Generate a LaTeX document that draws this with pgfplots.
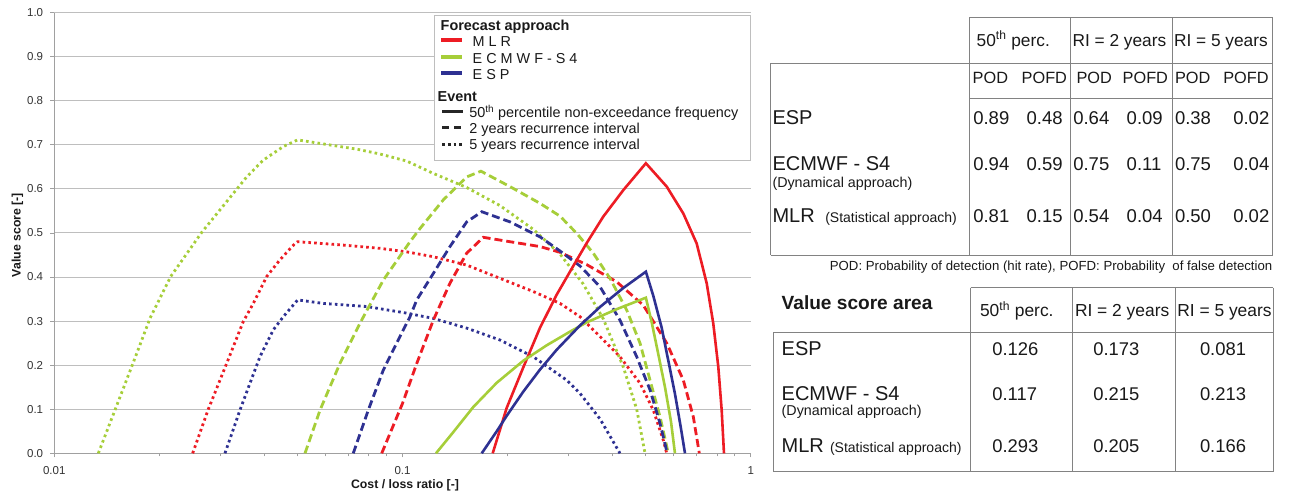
\documentclass[border=0pt]{standalone}
\usepackage{pgfplots}
\pgfplotsset{compat=1.18}
\usepackage{fontspec}
\setmainfont{Liberation Sans}

\definecolor{mlr}{RGB}{237,28,36}
\definecolor{ecm}{RGB}{166,206,57}
\definecolor{esp}{RGB}{46,49,146}
\definecolor{gridgray}{RGB}{190,190,190}
\definecolor{axgray}{RGB}{160,160,160}
\definecolor{tabgray}{RGB}{130,130,130}
\newcommand{\fs}[1]{\fontsize{#1}{#1}\selectfont}

\tikzset{
  solidline/.style={line width=2.6pt},
  dashline/.style={line width=2.8pt, dash pattern=on 8pt off 4pt},
  dotline/.style={line width=2.8pt, line cap=butt, dash pattern=on 2.6pt off 3.2pt},
}

\begin{document}
\begin{tikzpicture}
\begin{axis}[
  at={(54.3pt,-453.3pt)}, anchor=south west,
  scale only axis, width=696.4pt, height=440.8pt,
  xmode=log, xmin=0.01, xmax=1, ymin=0, ymax=1,
  axis lines*=left,
  axis line style={axgray, line width=0.8pt},
  ymajorgrids, grid style={gridgray, line width=0.9pt},
  xtick={0.01,0.1,1}, xticklabels={0.01,0.1,1},
  minor xtick={0.02,0.03,0.04,0.05,0.06,0.07,0.08,0.09,0.2,0.3,0.4,0.5,0.6,0.7,0.8,0.9},
  ytick={0,0.1,0.2,0.3,0.4,0.5,0.6,0.7,0.8,0.9,1},
  yticklabel style={/pgf/number format/fixed, /pgf/number format/fixed zerofill,
                    /pgf/number format/precision=1, xshift=-7pt},
  /pgf/number format/assume math mode=true,
  tick style={axgray, line width=0.8pt},
  tick align=outside, major tick length=4pt, minor tick length=3pt,
  ticklabel style={font=\fs{11.5}, text=black!80, inner sep=0pt},
  xticklabel style={yshift=-9pt},
  clip=false,
]
% MLR, 5 years RI
\addplot[mlr, dotline] coordinates {
(0.02497,0) (0.02769,0.1) (0.03127,0.204) (0.0349,0.299) (0.03729,0.340)
(0.04074,0.401) (0.04448,0.439) (0.0491,0.476) (0.05,0.480) (0.06614,0.473)
(0.08617,0.465) (0.1028,0.457) (0.1226,0.446) (0.1529,0.427) (0.1905,0.397)
(0.2375,0.367) (0.2834,0.340) (0.3234,0.310) (0.3692,0.265) (0.4213,0.219)
(0.481,0.159) (0.5253,0.098) (0.561,0.030) (0.574,0)
};
% ECMWF-S4, 5 years RI
\addplot[ecm, dotline] coordinates {
(0.01338,0) (0.01487,0.094) (0.01686,0.206) (0.01883,0.306) (0.02159,0.401)
(0.0265,0.501) (0.03569,0.627) (0.03982,0.665) (0.04548,0.696) (0.05,0.711)
(0.058,0.703) (0.0739,0.690) (0.0862,0.679) (0.1028,0.663) (0.1226,0.635)
(0.1529,0.603) (0.1905,0.562) (0.2375,0.508) (0.2834,0.452) (0.3305,0.384)
(0.3773,0.305) (0.4306,0.196) (0.4706,0.100) (0.4972,0)
};
% ESP, 5 years RI
\addplot[esp, dotline] coordinates {
(0.03092,0) (0.03414,0.098) (0.03648,0.159) (0.03896,0.219) (0.04256,0.280)
(0.04548,0.310) (0.05,0.348) (0.05924,0.340) (0.07893,0.333) (0.1028,0.318)
(0.1226,0.306) (0.1529,0.284) (0.1905,0.257) (0.2375,0.219) (0.2962,0.166)
(0.3234,0.136) (0.3692,0.078) (0.4213,0)
};
% MLR, 2 years RI
\addplot[mlr, dashline] coordinates {
(0.08717,0) (0.1,0.113) (0.1099,0.204) (0.1226,0.302) (0.1369,0.386)
(0.1529,0.454) (0.1707,0.490) (0.2036,0.480) (0.2483,0.469) (0.2834,0.456)
(0.3381,0.428) (0.4123,0.389) (0.4916,0.336) (0.574,0.250) (0.6405,0.166)
(0.6842,0.083) (0.712,0)
};
% ECMWF-S4, 2 years RI
\addplot[ecm, dashline] coordinates {
(0.05248,0) (0.05797,0.098) (0.06614,0.204) (0.07548,0.295) (0.0881,0.393)
(0.1051,0.480) (0.1123,0.510) (0.131,0.575) (0.1529,0.627) (0.168,0.640)
(0.2036,0.605) (0.2483,0.567) (0.2834,0.538) (0.3165,0.499) (0.3532,0.454)
(0.3944,0.397) (0.4404,0.325) (0.481,0.250) (0.5139,0.166) (0.549,0.083) (0.58,0)
};
% ESP, 2 years RI
\addplot[esp, dashline] coordinates {
(0.07222,0) (0.07976,0.098) (0.0881,0.189) (0.09623,0.250) (0.1051,0.310)
(0.1099,0.348) (0.1226,0.408) (0.1369,0.469) (0.1529,0.525) (0.169,0.548)
(0.2036,0.525) (0.2483,0.491) (0.2834,0.459) (0.3234,0.425) (0.3692,0.378)
(0.4213,0.302) (0.4706,0.219) (0.5139,0.144) (0.549,0.068) (0.576,0)
};
% MLR, 50th percentile
\addplot[mlr, solidline] coordinates {
(0.1816,0) (0.1992,0.103) (0.2223,0.195) (0.2483,0.285) (0.2773,0.36)
(0.3094,0.425) (0.3381,0.477) (0.3773,0.537) (0.4306,0.597) (0.5,0.658)
(0.574,0.605) (0.6405,0.544) (0.6997,0.476) (0.7475,0.386) (0.7808,0.295)
(0.8072,0.196) (0.8254,0.098) (0.8381,0)
};
% ECMWF-S4, 50th percentile
\addplot[ecm, solidline] coordinates {
(0.1248,0) (0.1399,0.048) (0.1597,0.105) (0.1865,0.160) (0.2223,0.210)
(0.2595,0.245) (0.3027,0.276) (0.3381,0.297) (0.4123,0.327) (0.5,0.353)
(0.5197,0.297) (0.5428,0.225) (0.5674,0.150) (0.5903,0.072) (0.6061,0)
};
% ESP, 50th percentile
\addplot[esp, solidline] coordinates {
(0.1689,0) (0.1865,0.050) (0.1992,0.085) (0.2223,0.140) (0.2483,0.190)
(0.2773,0.235) (0.3234,0.290) (0.3692,0.332) (0.4306,0.375) (0.5,0.412)
(0.5253,0.357) (0.5551,0.285) (0.58,0.210) (0.6061,0.135) (0.6295,0.060) (0.6476,0)
};
\end{axis}

\begin{scope}[x=1pt, y=-1pt, every node/.style={inner sep=0pt, outer sep=0pt, text=black!90}]
% axis titles
\node[font=\bfseries\fs{12.3}, anchor=base] at (405,488.3) {Cost / loss ratio [-]};
\node[font=\bfseries\fs{12.3}, rotate=90, anchor=base] at (20.7,235) {Value score [-]};

% legend
\fill[white] (434.3,15) rectangle (750.7,160);
\draw[gridgray, line width=0.9pt] (434.3,15) rectangle (750.7,160);
\node[font=\bfseries\fs{14.4}, anchor=base west] at (440.7,30.7) {Forecast approach};
\draw[mlr, line width=4.3pt] (441,40.3) -- (461.7,40.3);
\node[font=\fs{14.4}, anchor=base west] at (472.7,46.7) {M L R};
\draw[ecm, line width=4.3pt] (441,57.3) -- (461.7,57.3);
\node[font=\fs{14.4}, anchor=base west] at (472.7,63.3) {E C M W F - S 4};
\draw[esp, line width=4.3pt] (441,72.7) -- (461.7,72.7);
\node[font=\fs{14.4}, anchor=base west] at (472.7,79.3) {E S P};
\node[font=\bfseries\fs{14.4}, anchor=base west] at (437.7,101) {Event};
\draw[black!85, line width=3pt] (442.3,111) -- (463.3,111);
\node[font=\fs{14.4}, anchor=base west] at (469.3,117.3) {50\textsuperscript{th} percentile non-exceedance frequency};
\draw[black!85, line width=3pt, dash pattern=on 7pt off 5pt] (442.3,127.3) -- (463.3,127.3);
\node[font=\fs{14.4}, anchor=base west] at (469.3,133.3) {2 years recurrence interval};
\draw[black!85, line width=3pt, dash pattern=on 2.8pt off 2.8pt] (442.3,144) -- (463.3,144);
\node[font=\fs{14.4}, anchor=base west] at (469.3,149.3) {5 years recurrence interval};

% table 1: POD and POFD
\draw[tabgray, line width=0.9pt]
  (969,17.7) -- (1272.7,17.7)
  (770.7,63.3) -- (1272.7,63.3)
  (969,98) -- (1272.7,98)
  (770.7,255) -- (1272.7,255)
  (770.7,63.3) -- (770.7,255)
  (969,17.7) -- (969,255)
  (1070,17.7) -- (1070,255)
  (1172,17.7) -- (1172,255)
  (1272.7,17.7) -- (1272.7,255);
\node[font=\fs{17.3}, anchor=base west] at (976.7,46) {50\textsuperscript{th} perc.};
\node[font=\fs{17.3}, anchor=base west] at (1072.5,46) {RI = 2 years};
\node[font=\fs{17.3}, anchor=base west] at (1174,46) {RI = 5 years};
\foreach \x/\t in {972.7/POD, 1021.7/POFD, 1076.5/POD, 1122.7/POFD, 1175/POD, 1223.3/POFD}
  \node[font=\fs{16.3}, anchor=base west] at (\x,83.3) {\t};
\node[font=\fs{20}, anchor=base west] at (772.5,124) {ESP};
\node[font=\fs{20}, anchor=base west] at (772.5,170) {ECMWF - S4};
\node[font=\fs{14.3}, anchor=base west] at (772.5,187.5) {(Dynamical approach)};
\node[font=\fs{20}, anchor=base west] at (772.5,222) {MLR};
\node[font=\fs{14}, anchor=base west] at (825.3,222) {(Statistical approach)};
\foreach \x/\a/\b/\c in {973.3/0.89/0.94/0.81, 1026.7/0.48/0.59/0.15, 1073.3/0.64/0.75/0.54,
                         1126.7/0.09/0.11/0.04, 1175/0.38/0.75/0.50, 1233.3/0.02/0.04/0.02} {
  \node[font=\fs{18.5}, anchor=base west] at (\x,124) {\a};
  \node[font=\fs{18.5}, anchor=base west] at (\x,170) {\b};
  \node[font=\fs{18.5}, anchor=base west] at (\x,222) {\c};
}
\node[font=\fs{13.2}, anchor=base east] at (1272.3,270) {POD: Probability of detection (hit rate), POFD: Probability~ of false detection};

% table 2: value score area
\draw[tabgray, line width=0.9pt]
  (970.7,287.7) -- (1273.3,287.7)
  (773.3,332.3) -- (1273.3,332.3)
  (773.3,471.7) -- (1273.3,471.7)
  (773.3,332.3) -- (773.3,471.7)
  (970.7,287.7) -- (970.7,471.7)
  (1072.3,287.7) -- (1072.3,471.7)
  (1175,287.7) -- (1175,471.7)
  (1273.3,287.7) -- (1273.3,471.7);
\node[font=\bfseries\fs{19.1}, anchor=base west] at (781.7,309.3) {Value score area};
\node[font=\fs{17.4}, anchor=base west] at (980,316.7) {50\textsuperscript{th} perc.};
\node[font=\fs{17.4}, anchor=base west] at (1075,316.7) {RI = 2 years};
\node[font=\fs{17.4}, anchor=base west] at (1177.3,316.7) {RI = 5 years};
\node[font=\fs{20}, anchor=base west] at (781.7,355) {ESP};
\node[font=\fs{20}, anchor=base west] at (781.7,400) {ECMWF - S4};
\node[font=\fs{14.3}, anchor=base west] at (781.7,415) {(Dynamical approach)};
\node[font=\fs{20}, anchor=base west] at (781.7,452.7) {MLR};
\node[font=\fs{14}, anchor=base west] at (830,452.7) {(Statistical approach)};
\foreach \x/\a/\b/\c in {992.3/0.126/0.117/0.293, 1093.3/0.173/0.215/0.205, 1200/0.081/0.213/0.166} {
  \node[font=\fs{18.4}, anchor=base west] at (\x,355) {\a};
  \node[font=\fs{18.4}, anchor=base west] at (\x,400) {\b};
  \node[font=\fs{18.4}, anchor=base west] at (\x,452.7) {\c};
}
\end{scope}

\pgfresetboundingbox
\useasboundingbox (0pt,0pt) rectangle (1290pt,-493pt);
\end{tikzpicture}
\end{document}
